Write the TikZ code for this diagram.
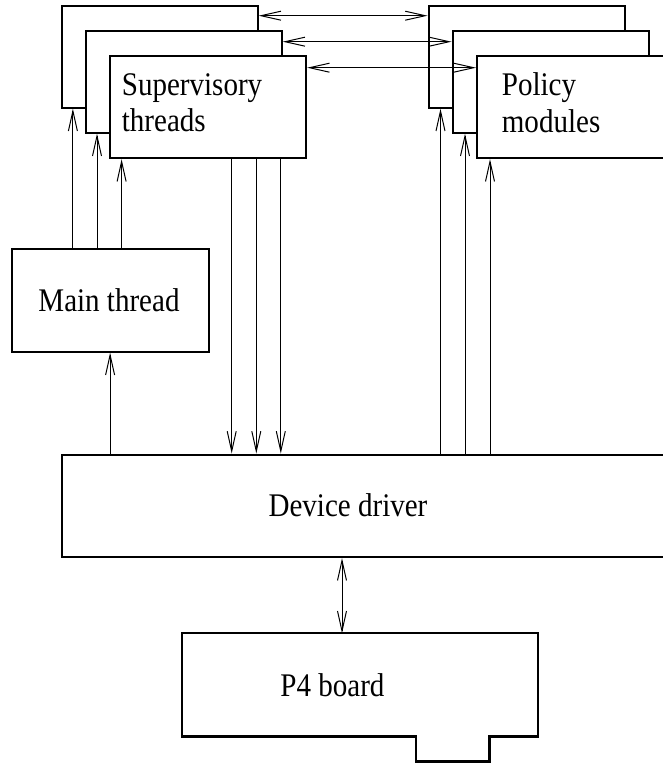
\documentclass[tikz,border=0pt]{standalone}
\usepackage{fontspec}
\setmainfont{Liberation Serif}[FakeStretch=0.88]
\usetikzlibrary{arrows.meta}
\tikzset{
  blk/.style={draw, line width=2.2pt, fill=white, inner sep=0pt, anchor=north west,
              minimum width=196pt, minimum height=102pt},
  lbl/.style={font=\fontsize{33}{36.5}\selectfont, inner sep=0pt, align=left},
  arr/.style={line width=1pt, -{Straight Barb[length=20pt,width=9pt,line width=1pt]}},
  dbl/.style={line width=1pt, {Straight Barb[length=20pt,width=9pt,line width=1pt]}-{Straight Barb[length=20pt,width=9pt,line width=1pt]}},
  plain/.style={line width=1pt}
}
\begin{document}
\begin{tikzpicture}[x=1pt,y=-1pt]
\useasboundingbox (0,0) rectangle (663,763);
\clip (0,0) rectangle (663,763);
% supervisory stack
\node[blk] (s1) at (60.5,4.5) {};
\node[blk] (s2) at (84.5,29.5) {};
\node[blk] (s3) at (109,55) {};
\node[lbl, anchor=west] (st) at (121.7,102.6) {Supervisory\\threads};
% policy stack
\node[blk] (p1) at (427.5,4.5) {};
\node[blk] (p2) at (451.5,29.5) {};
\node[blk] (p3) at (476,55) {};
\node[lbl, anchor=west] (pt) at (501.7,102.6) {Policy\\modules};
% main thread
\node[blk, minimum width=197pt, minimum height=103pt] (m) at (10.5,247.5) {};
\node[lbl, anchor=base] (mt) at (109,311.7) {Main thread};
% device driver
\node[blk, minimum width=660pt, minimum height=102.5pt] (d) at (60.5,453.5) {};
\node[lbl, anchor=base] (dt) at (348,516.7) {Device driver};
% P4 board
\node[inner sep=0pt, anchor=north west, minimum width=355.4pt, minimum height=102.7pt] (b) at (182.3,633.3) {};
\draw[line width=2.2pt] (b.north west) -- (b.north east) -- (b.south east)
   -- ++(-48.7,0) -- ++(0,25) -- ++(-73.3,0) -- ++(0,-25) -- (b.south west) -- cycle;
\node[lbl, anchor=base] (bt) at (332.5,696.7) {P4 board};
% horizontal double arrows
\path (s1.north east) ++(0,11.2) coordinate (h1);
\path (s2.north east) ++(0,12.2) coordinate (h2);
\path (s3.north east) ++(0,12.7) coordinate (h3);
\draw[dbl] (h1) -- (h1 -| p1.west);
\draw[dbl] (h2) -- (h2 -| p2.west);
\draw[dbl] (h3) -- (h3 -| p3.west);
% main thread to supervisory
\path (s1.south west) ++(12.4,0) coordinate (u1);
\path (s2.south west) ++(12.5,0) coordinate (u2);
\path (s3.south west) ++(12.6,0) coordinate (u3);
\draw[arr] (u1 |- m.north) -- (u1);
\draw[arr] (u2 |- m.north) -- (u2);
\draw[arr] (u3 |- m.north) -- (u3);
% driver to main thread
\draw[arr] (m.south |- d.north) -- (m.south);
% supervisory to driver
\path (s3.south west) ++(122.7,0) coordinate (w1);
\path (s3.south west) ++(147.3,0) coordinate (w2);
\path (s3.south west) ++(171.8,0) coordinate (w3);
\draw[arr] (w1) -- (w1 |- d.north);
\draw[arr] (w2) -- (w2 |- d.north);
\draw[arr] (w3) -- (w3 |- d.north);
% driver to policy
\path (p1.south west) ++(13,0) coordinate (q1);
\path (p2.south west) ++(13.5,0) coordinate (q2);
\path (p3.south west) ++(14,0) coordinate (q3);
\draw[arr] (q1 |- d.north) -- (q1);
\draw[arr] (q2 |- d.north) -- (q2);
\draw[arr] (q3 |- d.north) -- (q3);
% driver to board
\path (b.north west) ++(159.7,0) coordinate (v);
\draw[dbl] (v) -- (v |- d.south);
\end{tikzpicture}
\end{document}
